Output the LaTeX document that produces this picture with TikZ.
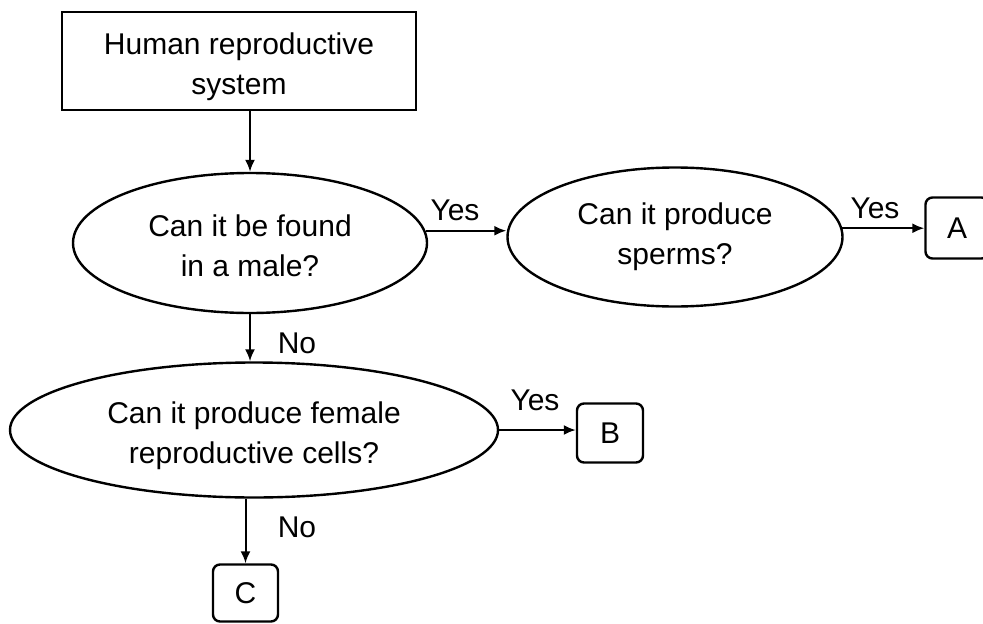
\documentclass[tikz,border=0pt]{standalone}
\usepackage{fontspec}
\setmainfont{Liberation Sans}
\usetikzlibrary{shapes.geometric,arrows.meta}
\begin{document}
\begin{tikzpicture}[x=1pt,y=-1pt,
  every node/.style={font=\fontsize{30}{40}\selectfont, text=black},
  box/.style={draw, line width=2.4pt, rectangle, inner sep=0pt, align=center},
  qnode/.style={draw, line width=2.4pt, ellipse, inner sep=0pt, align=center},
  endbox/.style={draw, line width=2.4pt, rectangle, rounded corners=7pt, inner sep=0pt,
    minimum width=64pt, minimum height=59pt},
  arr/.style={line width=2pt, -{Latex[length=12pt,width=10pt]}},
  lbl/.style={inner sep=0pt}]
\useasboundingbox (0,0) rectangle (983,624);
\node[box, minimum width=354pt, minimum height=98pt] (top) at (239,61)
  {\rule{0pt}{33pt}Human reproductive\\system};
\node[qnode, minimum width=354pt, minimum height=140pt] (e1) at (250,243)
  {\rule{0pt}{27pt}Can it be found\\in a male?};
\node[qnode, minimum width=335pt, minimum height=139pt] (e2) at (675,237)
  {Can it produce\\sperms?};
\node[qnode, minimum width=488pt, minimum height=135pt] (e3) at (254,430)
  {\rule{0pt}{34pt}Can it produce female\\reproductive cells?};
\node[endbox, minimum width=63pt, minimum height=61pt] (A) at (957,228) {A};
\node[endbox, minimum width=66pt] (B) at (610,433) {B};
\node[endbox, minimum width=65pt, minimum height=57pt] (C) at (245.5,593) {C};

\draw[arr] (top.south -| e1.north) -- (e1.north);
\draw[arr] (e1.4) -- (e1.4 -| e2.west);
\draw[arr] (e2.3) -- (e2.3 -| A.west);
\draw[arr] (e1.south) -- (e1.south |- e3.north);
\draw[arr] (e3.east) -- (e3.east -| B.west);
\draw[arr] (C.north |- e3.south) -- (C.north);

\node[lbl] (y1) at (455,210) {Yes};
\node[lbl] (y2) at (875,208) {Yes};
\node[lbl] (n1) at (297,343) {No};
\node[lbl] (y3) at (535,400) {Yes};
\node[lbl] (n2) at (297,527) {No};
\end{tikzpicture}
\end{document}
